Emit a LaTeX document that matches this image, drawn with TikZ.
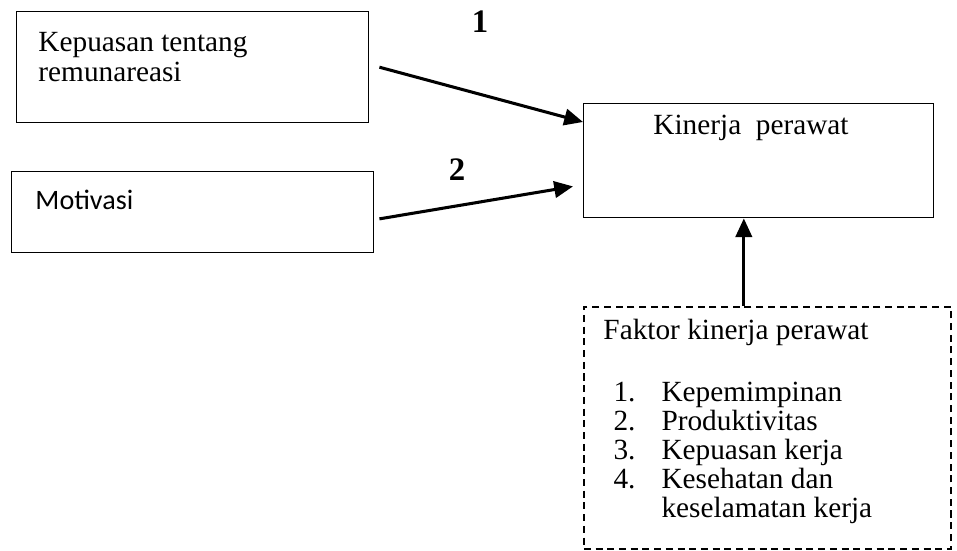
\documentclass[tikz,border=0pt]{standalone}
\usepackage{fontspec}
\setmainfont{Liberation Serif}
\newfontfamily\carlito{Carlito}
\usetikzlibrary{arrows.meta,positioning}

\begin{document}
\begin{tikzpicture}[box/.style={draw, line width=0.6pt, anchor=north west, inner sep=0pt},
            txt/.style={anchor=west, inner sep=0pt, align=left, font=\fontsize{12.5}{12.8}\selectfont},
            num/.style={inner sep=0pt, font=\fontsize{14}{16}\selectfont\bfseries},
            arr/.style={-{Triangle[length=8pt,width=7pt]}, line width=1.3pt}]
        \useasboundingbox (0,0) rectangle (14.355,-8.265);
        \node[box, minimum width=5.28cm, minimum height=1.665cm](remun) at (0.24,-0.165) {};
        \node[box, minimum width=5.43cm, minimum height=1.215cm](motiv) at (0.165,-2.565) {};
        \node[box, minimum width=5.25cm, minimum height=1.71cm](kinerja) at (8.745,-1.545) {};
        \node[box, line width=0.7pt, dash pattern=on 3pt off 2pt,
              minimum width=5.505cm, minimum height=3.63cm](faktor) at (8.745,-4.59) {};

        \node[txt](remuntext) at (0.57,-0.855) {Kepuasan tentang\\remunareasi};
        \node[txt, font=\carlito\fontsize{12}{14}\selectfont](motivtext) at (0.525,-3.0) {Motivasi};
        \node[txt, anchor=center](kinerjatext) at (11.265,-1.92) {Kinerja\ \ perawat};
        \node[txt, font=\fontsize{12.5}{12.4}\selectfont](faktortext) at (9.045,-6.32) {Faktor kinerja perawat\\[14pt]
            \hspace*{4.3pt}\makebox[20.5pt][l]{1.}Kepemimpinan\\
            \hspace*{4.3pt}\makebox[20.5pt][l]{2.}Produktivitas\\
            \hspace*{4.3pt}\makebox[20.5pt][l]{3.}Kepuasan kerja\\
            \hspace*{4.3pt}\makebox[20.5pt][l]{4.}Kesehatan dan\\
            \hspace*{24.8pt}keselamatan kerja};

        \node[num](labelA) at (7.2,-0.33) {1};
        \node[num](labelB) at (6.855,-2.55) {2};

        \draw[arr] ([xshift=0.15cm]remun.east) -- ([yshift=-0.285cm]kinerja.north west);
        \draw[arr] ([xshift=0.075cm,yshift=-0.1cm]motiv.east) --
            ([xshift=-0.15cm,yshift=0.48cm]kinerja.south west);
        \coordinate (upfoot) at ([xshift=-0.3525cm]faktor.north);
        \draw[arr] (upfoot) -- (upfoot |- kinerja.south);
\end{tikzpicture}
\end{document}
